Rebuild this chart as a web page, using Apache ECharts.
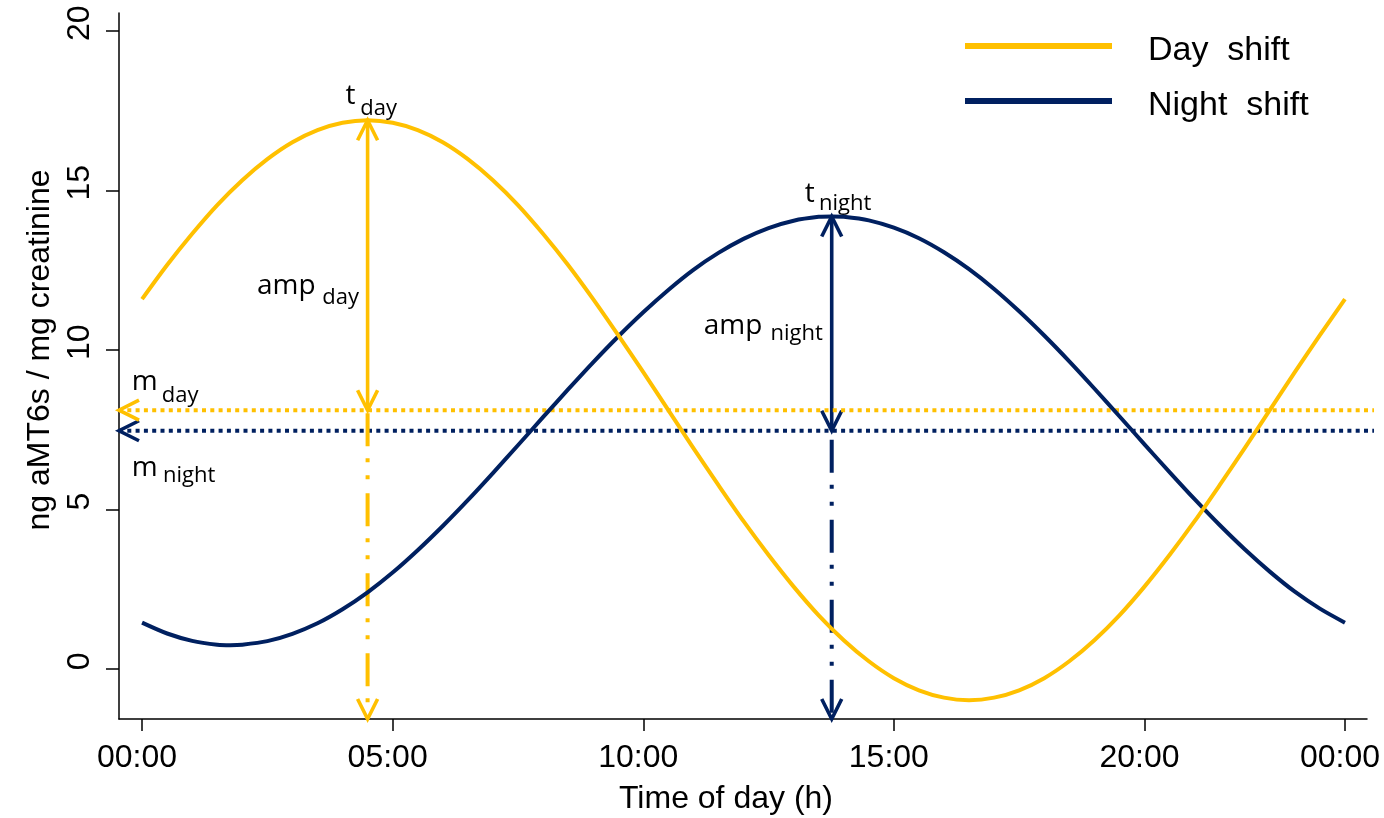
<!DOCTYPE html>
<html>
<head>
<meta charset="utf-8">
<title>Cosinor curves</title>
<script src="https://cdn.jsdelivr.net/npm/echarts@6/dist/echarts.min.js"></script>
<style>
  html, body { margin: 0; padding: 0; background: #fff; }
  #chart { width: 1384px; height: 818px; }
</style>
</head>
<body>
<div id="chart"></div>
<script>
// time of day (h), half-hour steps (plus the read-off extremes)
const dayHours = [0, 0.5, 1, 1.5, 2, 2.5, 3, 3.5, 4, 4.5, 5, 5.5, 6, 6.5, 7, 7.5, 8, 8.5, 9, 9.5,
  10, 10.5, 11, 11.5, 12, 12.5, 13, 13.5, 14, 14.5, 15, 15.5, 16, 16.5, 17, 17.5, 18, 18.5, 19, 19.5,
  20, 20.5, 21, 21.5, 22, 22.5, 23, 23.5, 24];

const dayValues = [11.60, 12.67, 13.65, 14.55, 15.33, 15.99, 16.52, 16.90, 17.13, 17.21, 17.13, 16.90,
  16.52, 15.99, 15.33, 14.55, 13.65, 12.67, 11.60, 10.47, 9.31, 8.12, 6.93, 5.77, 4.64, 3.58, 2.59,
  1.69, 0.91, 0.25, -0.28, -0.66, -0.89, -0.97, -0.89, -0.66, -0.28, 0.25, 0.91, 1.69, 2.59, 3.58,
  4.64, 5.77, 6.93, 8.12, 9.31, 10.47, 11.60];

const nightHours = [0, 0.5, 1, 1.5, 1.76, 2, 2.5, 3, 3.5, 4, 4.5, 5, 5.5, 6, 6.5, 7, 7.5, 8, 8.5, 9, 9.5,
  10, 10.5, 11, 11.5, 12, 12.5, 13, 13.5, 13.76, 14, 14.5, 15, 15.5, 16, 16.5, 17, 17.5, 18, 18.5, 19, 19.5,
  20, 20.5, 21, 21.5, 22, 22.5, 23, 23.5, 24];

const nightValues = [1.46, 1.12, 0.89, 0.77, 0.755, 0.77, 0.88, 1.11, 1.44, 1.88, 2.41, 3.03, 3.73, 4.49,
  5.30, 6.15, 7.02, 7.90, 8.77, 9.62, 10.43, 11.19, 11.89, 12.52, 13.05, 13.49, 13.83, 14.06, 14.18, 14.195,
  14.18, 14.07, 13.84, 13.51, 13.07, 12.54, 11.92, 11.22, 10.46, 9.65, 8.80, 7.93, 7.05, 6.18, 5.33,
  4.52, 3.76, 3.06, 2.43, 1.90, 1.46];

// cosinor annotations: [day, night]
const shiftNames = ['Day  shift', 'Night  shift'];
const peakTimes = [4.5, 13.76];
const peakValues = [17.21, 14.19];
const mesorValues = [8.12, 7.475];
const subLabels = ['day', 'night'];

const xTicks = [0, 5, 10, 15, 20, 24];
const xTickLabels = ['00:00', '05:00', '10:00', '15:00', '20:00', '00:00'];
const yTicks = [0, 5, 10, 15, 20];

const xMin = -0.46, xMax = 24.44, yMin = -1.56, yMax = 20.57;
const mesorLineEnd = 24.58;

const YELLOW = '#FFC000';
const NAVY = '#002060';
const axisFont = '"Liberation Sans", Arial, sans-serif';
const labelFont = '"Open Sans", "Noto Sans", sans-serif';

// label offsets (px) from the arrow tip / axis end, baseline positions
const labelLayout = [
  { t: [-22, -13.6], tSub: [-7.3, -3.6], amp: [-110.7, 175.7], ampSub: [-45.3, 185.7], m: [12.7, -18], mSub: [42.7, -7] },
  { t: [-27, -12.7], tSub: [-12.7, -5], amp: [-128, 120], ampSub: [-61.3, 125], m: [12.7, 47], mSub: [44, 53] }
];

function head(tip, dir, color) {
  // open V arrowhead, dir = unit vector pointing from tip back along the shaft
  const L = 20, W = 10;
  const px = -dir[1], py = dir[0];
  return {
    type: 'polyline',
    shape: { points: [
      [tip[0] + L * dir[0] + W * px, tip[1] + L * dir[1] + W * py],
      tip,
      [tip[0] + L * dir[0] - W * px, tip[1] + L * dir[1] - W * py]
    ] },
    style: { stroke: color, lineWidth: 3.6, fill: null, lineJoin: 'miter' }
  };
}

function text(pos, off, str, size) {
  return {
    type: 'text',
    x: pos[0] + off[0],
    y: pos[1] + off[1] - 0.36 * size,
    style: { text: str, fill: '#000', fontSize: size, fontFamily: labelFont, align: 'left', verticalAlign: 'middle' }
  };
}

function annotation(i, color, dashOffset) {
  return {
    type: 'custom',
    clip: false,
    silent: true,
    data: [[peakTimes[i], peakValues[i], mesorValues[i]]],
    encode: { x: 0, y: [1, 2] },
    renderItem: (params, api) => {
      const t = api.value(0), pk = api.value(1), ms = api.value(2);
      const top = api.coord([t, pk]);
      const mid = api.coord([t, ms]);
      const bottom = api.coord([t, yMin]);
      const left = api.coord([xMin, ms]);
      const right = api.coord([mesorLineEnd, ms]);
      const lay = labelLayout[i];
      return {
        type: 'group',
        children: [
          { type: 'polyline', shape: { points: [left, right] },
            style: { stroke: color, lineWidth: 4, lineDash: [4, 4.3], fill: null, lineCap: 'butt' } },
          { type: 'polyline', shape: { points: [top, mid] },
            style: { stroke: color, lineWidth: 3.6, fill: null } },
          { type: 'polyline', shape: { points: [mid, bottom] },
            style: { stroke: color, lineWidth: 4, lineDash: [33, 12, 4, 13, 4, 14], lineDashOffset: dashOffset, fill: null, lineCap: 'butt' } },
          head(top, [0, 1], color),
          head(mid, [0, -1], color),
          head(bottom, [0, -1], color),
          head(left, [1, 0], color),
          text(top, lay.t, 't', 28),
          text(top, lay.tSub, subLabels[i], 22),
          text(top, lay.amp, 'amp', 28),
          text(top, lay.ampSub, subLabels[i], 22),
          text([left[0], mid[1]], lay.m, 'm', 28),
          text([left[0], mid[1]], lay.mSub, subLabels[i], 22)
        ]
      };
    },
    z: 3
  };
}

function curve(name, hours, values, color) {
  return {
    name,
    type: 'line',
    data: hours.map((h, k) => [h, values[k]]),
    smooth: 0.3,
    showSymbol: false,
    silent: true,
    lineStyle: { color, width: 4, join: 'round' },
    itemStyle: { color },
    z: 3
  };
}

const chart = echarts.init(document.getElementById('chart'), null, { renderer: 'canvas' });

const option = {
  animation: false,
  backgroundColor: '#fff',
  grid: { left: 119, right: 17, top: 13, bottom: 99, containLabel: false, outerBoundsMode: 'none' },
  legend: {
    orient: 'vertical',
    left: 960,
    top: 19,
    data: shiftNames,
    icon: 'rect',
    itemWidth: 147,
    itemHeight: 6,
    itemGap: 11,
    selectedMode: false,
    formatter: name => '{a|' + name + '}',
    textStyle: {
      fontFamily: axisFont, fontSize: 34, color: '#000', padding: [0, 0, 0, 31],
      rich: { a: { fontFamily: axisFont, fontSize: 34, color: '#000', lineHeight: 34, padding: [10, 0, 0, 0] } }
    }
  },
  xAxis: {
    type: 'value',
    min: xMin,
    max: xMax,
    name: 'Time of day (h)',
    nameLocation: 'middle',
    nameGap: 64,
    nameTextStyle: { fontFamily: axisFont, fontSize: 32, color: '#000', padding: [0, 34, 0, 0] },
    axisLine: { show: true, onZero: false, lineStyle: { color: '#000', width: 1.5 } },
    axisTick: { show: true, length: 12, customValues: xTicks, lineStyle: { color: '#000', width: 1.5 } },
    axisLabel: {
      customValues: xTicks,
      formatter: v => xTickLabels[xTicks.indexOf(v)],
      fontFamily: axisFont, fontSize: 32, color: '#000', margin: 23, padding: [0, 10, 0, 0]
    },
    splitLine: { show: false }
  },
  yAxis: {
    type: 'value',
    min: yMin,
    max: yMax,
    name: 'ng aMT6s / mg creatinine',
    nameLocation: 'middle',
    nameRotate: 90,
    nameGap: 59,
    nameTextStyle: { fontFamily: axisFont, fontSize: 32, color: '#000', padding: [0, 0, 0, 32] },
    axisLine: { show: true, onZero: false, lineStyle: { color: '#000', width: 1.5 } },
    axisTick: { show: true, length: 13, customValues: yTicks, lineStyle: { color: '#000', width: 1.5 } },
    axisLabel: {
      customValues: yTicks,
      rotate: 90,
      fontFamily: axisFont, fontSize: 32, color: '#000', margin: 23, padding: [0, 0, 0, 16]
    },
    splitLine: { show: false }
  },
  series: [
    curve(shiftNames[1], nightHours, nightValues, NAVY),
    annotation(1, NAVY, 71),
    curve(shiftNames[0], dayHours, dayValues, YELLOW),
    annotation(0, YELLOW, 77)
  ]
};

chart.setOption(option);
window.addEventListener('resize', () => chart.resize());
</script>
</body>
</html>
